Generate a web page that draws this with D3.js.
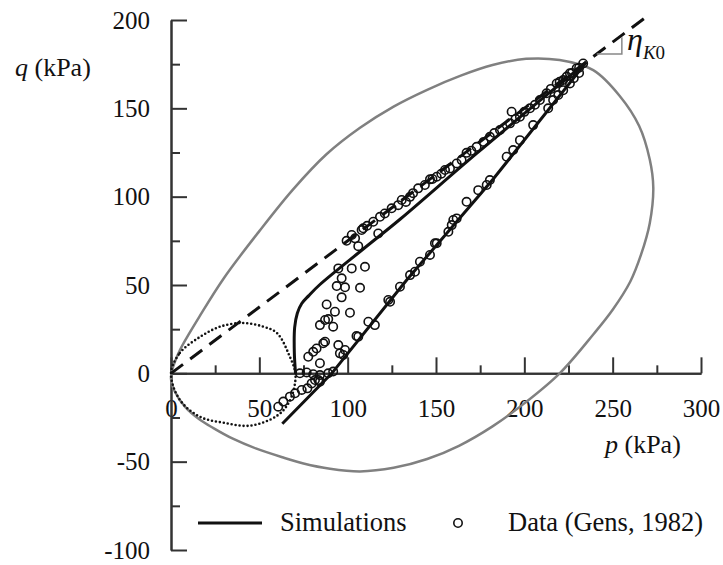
<!DOCTYPE html>
<html>
<head>
<meta charset="utf-8">
<script src="https://cdn.jsdelivr.net/npm/d3@7"></script>
<style>
  body { margin: 0; background: #fff; }
</style>
</head>
<body>
<svg width="723" height="565"></svg>
<script>
"use strict";

const FONT = "Liberation Serif";

// tick values
const xMajor = [0, 50, 100, 150, 200, 250, 300],
    xMinor = [25, 75, 125, 175, 225, 275],
    yMajor = [-100, -50, 0, 50, 100, 150, 200],
    yMinor = [-75, -25, 25, 75, 125, 175];

// grey yield surface (p, q)
const outerSurface = [
    [0, -3], [1, 3], [5, 13], [10, 22], [16, 32], [30, 54], [50, 80.5], [69, 104],
    [88, 124], [107, 139], [126, 151], [145, 160.5], [164, 168.5], [182, 174.5],
    [201, 178], [220, 177.3], [239, 171.6], [254, 157], [265, 140], [271, 121],
    [273, 105], [271, 85], [266, 67], [260, 52], [250, 36], [239, 22], [220, 0],
    [200, -17], [182, -30], [163, -41], [145, -48.5], [126, -53.5], [107, -55.5],
    [90, -54], [75, -51], [63, -47.5], [48, -42.5], [35, -37], [24, -31], [16, -26],
    [8, -19], [2, -10]
];

// dotted initial surface
const initialSurface = [
    [0, 0], [5, 11.5], [16.4, 20.6], [28, 26.5], [41, 28.5], [52, 26.5], [60, 22.8],
    [67, 10], [70.5, -1], [67, -16], [60, -24], [45, -29.6], [30, -28], [16.4, -24.6], [5, -15]
];

// K0 line (dashed) and the slope marker
const k0Line = [[0, 0], [270, 202.5]];
const k0Marker = [[241, 180.7], [255.2, 180.7], [255.2, 190.3]];

// simulations
const simLoading = [
    [70.5, 0], [69.8, 12], [70, 26], [71.5, 34], [74, 39.5], [78, 44], [84, 50],
    [109, 70.5], [130, 87.5], [173, 124.5], [235, 176]
];
const simUnloading = [[63, -28.5], [91, 0], [133.4, 52.8], [182.4, 110], [235, 176]];

// data (Gens, 1982)
const dataLoading = [
    [99.4, 75], [102.3, 78.3], [104.2, 76.4], [107.9, 81.1], [106, 72], [108.8, 82.1],
    [111, 83.5], [114.5, 85.8], [117.3, 79.2], [118.3, 88.6], [121, 90.5], [124.9, 93.4],
    [128.6, 95.2], [130.6, 98.1], [133, 97], [135.3, 99.9], [137, 102], [139.9, 104.7],
    [143.7, 106.6], [146.6, 109.8], [148, 110], [150.4, 111.3], [153, 113], [155.1, 115.1],
    [157.9, 116], [161.7, 118.8], [164.5, 120.7], [167.3, 124.8], [170, 126], [173, 128.2],
    [177, 131], [180.5, 133.9], [183, 136], [186.2, 137.7], [191.9, 141.5], [192.8, 148.1],
    [195, 144], [197.5, 145.2], [200, 148], [203.2, 150], [206, 152], [208.8, 154.7],
    [212.6, 158.5], [215, 161], [218.3, 164.1], [220, 165], [222, 166], [224, 168],
    [225.8, 169.8], [227, 170], [229.6, 172.6], [231, 173], [233.3, 175.4]
];
const dataUnloading = [
    [60.7, -18.9], [63.6, -16], [67.3, -13.2], [70.2, -11.3], [74, -9.4], [77.2, -8.5],
    [79.6, -5.7], [81.5, -3.8], [84.3, -4.7], [95.6, 11.3], [97.5, 10.4], [98.5, 13.2],
    [105, 21.1], [106, 20.7], [111.7, 29.2], [115.4, 27.3], [123, 41.5], [124, 40.5],
    [129.6, 49], [135.3, 55.6], [138.1, 57.5], [140.9, 63.2], [146.6, 67], [149.4, 73.6],
    [150.4, 73.6], [157, 80.1], [158.9, 83.9], [159.8, 86.8], [161.7, 87.7], [167.3, 97.1],
    [173.9, 103.7], [178.7, 106.6], [180.5, 109.4], [190, 122.6], [193.7, 126.4],
    [197.5, 132], [205, 140.5], [213.5, 150], [216.3, 154.7], [219.2, 157.5], [222, 160.3],
    [225.8, 164.1], [228, 167], [231, 170]
];
const dataReloading = [
    [94.7, 59.4], [102.3, 59.4], [109.8, 60.3], [96.6, 53.8], [93.8, 49.4], [98.5, 48.7],
    [107, 48.4], [96.6, 43], [88.1, 39], [92.8, 34.9], [101.3, 34.3], [87.2, 30.2],
    [84.3, 27.3], [91.8, 26.4], [89, 30.7], [87.2, 17.9], [82.4, 14.1], [80.5, 12.2],
    [77.7, 9.4], [84.3, 5.7], [94.7, 16], [73, 0], [76.8, 0.5], [80.5, -0.5],
    [84.3, -1], [89, 0], [91.8, 1], [83.4, -3.8], [86.2, 17]
];

const legendLabels = ["Simulations", "Data (Gens, 1982)"];

const svg = d3.select("svg"),
    x = d3.scaleLinear().domain([0, 300]).range([171, 701]),
    y = d3.scaleLinear().domain([-100, 200]).range([550, 20]),
    line = d3.line().x(d => x(d[0])).y(d => y(d[1])),
    closed = d3.line().x(d => x(d[0])).y(d => y(d[1])).curve(d3.curveCatmullRomClosed),
    smooth = d3.line().x(d => x(d[0])).y(d => y(d[1])).curve(d3.curveCatmullRom);

// axes
function styleAxis(g) {
    g.attr("color", "#333")
        .attr("font-size", 25);
    g.select(".domain").attr("stroke-width", 2);
    g.selectAll(".tick line").attr("stroke-width", 2);
    g.selectAll(".tick text").attr("fill", "#111").attr("font-family", FONT);
}

svg.append("g")
    .attr("transform", `translate(0,${y(0)})`)
    .call(d3.axisBottom(x).tickValues(xMinor).tickSize(-8).tickSizeOuter(0).tickFormat(""))
    .call(styleAxis);
svg.append("g")
    .attr("transform", `translate(0,${y(0)})`)
    .call(d3.axisBottom(x).tickValues(xMajor).tickSize(-16).tickSizeOuter(0).tickPadding(26)
        .tickFormat(d => String(d)))
    .call(styleAxis);
svg.append("g")
    .attr("transform", `translate(${x(0)},0)`)
    .call(d3.axisLeft(y).tickValues(yMinor).tickSize(-9).tickSizeOuter(0).tickFormat(""))
    .call(styleAxis);
svg.append("g")
    .attr("transform", `translate(${x(0)},0)`)
    .call(d3.axisLeft(y).tickValues(yMajor).tickSize(-16).tickSizeOuter(0).tickPadding(21)
        .tickFormat(d => String(d)))
    .call(styleAxis);

// axis titles
const qTitle = svg.append("text").attr("x", 15).attr("y", 76)
    .attr("font-family", FONT).attr("font-size", 26).attr("fill", "#111");
qTitle.append("tspan").attr("font-style", "italic").text("q");
qTitle.append("tspan").text(" (kPa)");
const pTitle = svg.append("text").attr("x", 605).attr("y", 453)
    .attr("font-family", FONT).attr("font-size", 26).attr("fill", "#111");
pTitle.append("tspan").attr("font-style", "italic").text("p");
pTitle.append("tspan").text(" (kPa)");

// surfaces
svg.append("path").datum(outerSurface)
    .attr("d", closed)
    .attr("fill", "none").attr("stroke", "#808080").attr("stroke-width", 2.5);
svg.append("path").datum(initialSurface)
    .attr("d", closed)
    .attr("fill", "none").attr("stroke", "#111").attr("stroke-width", 2.6)
    .attr("stroke-linecap", "round").attr("stroke-dasharray", "0,4");

// K0 line
svg.append("path").datum(k0Line)
    .attr("d", line)
    .attr("fill", "none").attr("stroke", "#111").attr("stroke-width", 3)
    .attr("stroke-dasharray", "15,9");
svg.append("path").datum(k0Marker)
    .attr("d", line)
    .attr("fill", "none").attr("stroke", "#888").attr("stroke-width", 1.5);
const eta = svg.append("text").attr("x", 627).attr("y", 50)
    .attr("font-family", FONT).attr("fill", "#111");
eta.append("tspan").attr("font-size", 32).attr("font-style", "italic").text("η");
eta.append("tspan").attr("font-size", 19).attr("font-style", "italic").attr("dy", 9).text("K");
eta.append("tspan").attr("font-size", 19).text("0");

// simulations
svg.append("path").datum(simLoading)
    .attr("d", smooth)
    .attr("fill", "none").attr("stroke", "#111").attr("stroke-width", 3);
svg.append("path").datum(simUnloading)
    .attr("d", line)
    .attr("fill", "none").attr("stroke", "#111").attr("stroke-width", 3);

// data
const allData = dataLoading.concat(dataUnloading, dataReloading);
svg.append("g").selectAll("circle")
    .data(allData)
    .enter().append("circle")
    .attr("cx", d => x(d[0]))
    .attr("cy", d => y(d[1]))
    .attr("r", 4.2)
    .attr("fill", "none")
    .attr("stroke", "#111")
    .attr("stroke-width", 1.6);

// legend
const legend = svg.append("g").attr("font-family", FONT).attr("font-size", 26.5).attr("fill", "#111");
legend.append("line")
    .attr("x1", 198).attr("x2", 262).attr("y1", 523).attr("y2", 523)
    .attr("stroke", "#111").attr("stroke-width", 3);
legend.append("text").attr("x", 280).attr("y", 531).text(legendLabels[0]);
legend.append("circle")
    .attr("cx", 458).attr("cy", 523).attr("r", 4.2)
    .attr("fill", "none").attr("stroke", "#111").attr("stroke-width", 1.6);
legend.append("text").attr("x", 508).attr("y", 531).text(legendLabels[1]);
</script>
</body>
</html>
